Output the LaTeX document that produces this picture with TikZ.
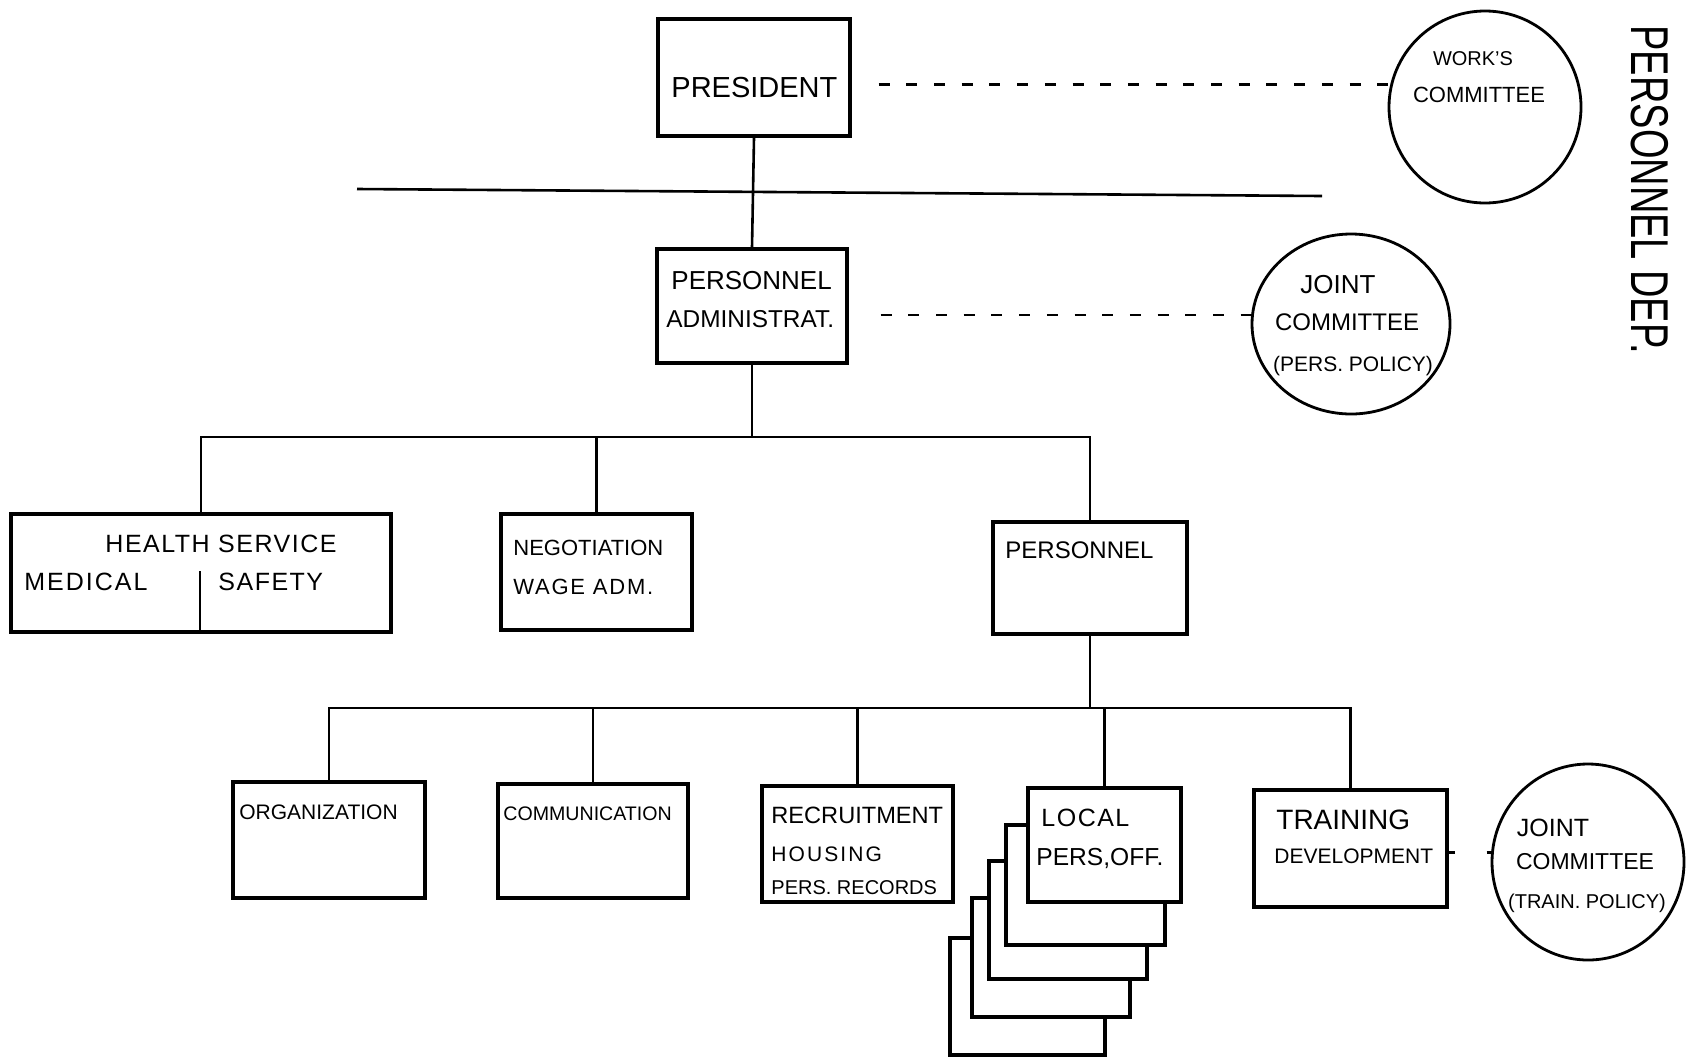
\documentclass[tikz,border=0pt]{standalone}
\usepackage{fontspec}
\setmainfont{Liberation Sans}
\usetikzlibrary{shapes.geometric}
\newcommand\fsz[1]{\fontsize{#1}{#1}\selectfont}
\begin{document}
\begin{tikzpicture}[x=0.5pt,y=-0.5pt,
  box/.style={draw, line width=1.6pt, fill=white, rectangle, inner sep=0pt},
  conn/.style={line width=1.3pt},
  dashline/.style={line width=1.3pt, dash pattern=on 5.5pt off 8.35pt},
  circ/.style={draw, line width=1.4pt, ellipse, inner sep=0pt},
  lbl/.style={anchor=base west, inner sep=0pt},
  clbl/.style={anchor=base, inner sep=0pt}]
\useasboundingbox (0,0) rectangle (1691,1061);

% top level
\node[box, minimum width=96pt, minimum height=58.5pt] (pres) at (754,77.5) {};
\node[box, minimum width=95pt, minimum height=57pt] (padm) at (752,306) {};
\node[circ, minimum width=96pt, minimum height=96pt] (wc) at (1485,107) {};
\node[circ, minimum width=99pt, minimum height=90pt] (jc1) at (1351,324) {};

\coordinate (hl1) at (357,189);
\coordinate (hl2) at (1322,196);
\draw[conn] (hl1) -- (hl2);
\draw[conn] (pres.south) -- (padm.north);
\coordinate (d1s) at ([shift={(27,7)}]pres.east);
\coordinate (d2s) at ([shift={(32,9)}]padm.east);
\draw[dashline] (d1s) -- (d1s -| wc.west);
\draw[dashline] (d2s) -- (d2s -| jc1.west);

% second level
\node[box, minimum width=190pt, minimum height=59pt] (health) at (201,573) {};
\node[box, minimum width=95.5pt, minimum height=58pt] (nego) at (596.5,572) {};
\node[box, minimum width=97pt, minimum height=56pt] (pers) at (1090,578) {};
\draw[conn] ([xshift=-0.5pt]health.south) -- ([shift={(-1,-63)}]health.south);

\coordinate (b1) at (750,437);
\draw[conn] (padm.south) -- (padm.south |- b1);
\draw[conn] (health.north) |- (b1) -| (pers.north);
\draw[conn] (nego.north) -- (nego.north |- b1);

% third level
\node[box, minimum width=96pt, minimum height=58pt] (org) at (329,840) {};
\node[box, minimum width=95pt, minimum height=57pt] (comm) at (593,841) {};
\node[box, minimum width=95.5pt, minimum height=58pt] (recr) at (857.5,844) {};
\node[box, minimum width=77.5pt, minimum height=58.5pt] (s4) at (1027.5,996.5) {};
\node[box, minimum width=79pt, minimum height=59.5pt] (s3) at (1051,957.5) {};
\node[box, minimum width=79pt, minimum height=59pt] (s2) at (1068,920) {};
\node[box, minimum width=79.5pt, minimum height=60pt] (s1) at (1085.5,885) {};
\node[box, minimum width=76.5pt, minimum height=57pt] (local) at (1104.5,845) {};
\node[box, minimum width=96.5pt, minimum height=58.5pt] (train) at (1350.5,848.5) {};
\node[circ, minimum width=96pt, minimum height=98pt] (jc2) at (1588,862) {};

\coordinate (b2) at (1088,708);
\draw[conn] (pers.south) -- (pers.south |- b2);
\draw[conn] (org.north) |- (b2) -| (train.north);
\draw[conn] (comm.north) -- (comm.north |- b2);
\draw[conn] (recr.north) -- (recr.north |- b2);
\draw[conn] (local.north) -- (local.north |- b2);
\coordinate (d3s) at ([shift={(0,4)}]train.east);
\draw[line width=1.3pt, dash pattern=on 3pt off 16pt on 3pt off 30pt] (d3s) -- (d3s -| jc2.west);

% labels
\node[lbl, font=\fsz{14.5}] (tpres) at (671,97) {PRESIDENT};
\node[lbl, font=\fsz{13}] (tpadm1) at (671,289) {PERSONNEL};
\node[lbl, font=\fsz{12.2}] (tpadm2) at (666,327) {ADMINISTRAT.};

\node[clbl, font=\fsz{10}] (twc1) at (1473,65) {WORK'S};
\node[clbl, font=\fsz{11}] (twc2) at (1479,102) {COMMITTEE};

\node[clbl, font=\fsz{13}] (tjc11) at (1338,293) {JOINT};
\node[clbl, font=\fsz{12}] (tjc12) at (1347,330) {COMMITTEE};
\node[clbl, font=\fsz{10.5}] (tjc13) at (1353,371) {(PERS. POLICY)};

\node[clbl, font=\fsz{12.5}\addfontfeatures{LetterSpace=6}] (th1) at (221,552) {HEALTH SERVICE};
\node[lbl, font=\fsz{12.5}\addfontfeatures{LetterSpace=8}] (th2) at (24,590) {MEDICAL};
\node[lbl, font=\fsz{12.5}\addfontfeatures{LetterSpace=6}] (th3) at (218,590) {SAFETY};

\node[lbl, font=\fsz{11}] (tn1) at (513,555) {NEGOTIATION};
\node[lbl, font=\fsz{11}\addfontfeatures{LetterSpace=8}] (tn2) at (513,594) {WAGE ADM.};

\node[lbl, font=\fsz{12}] (tp1) at (1005,558) {PERSONNEL};

\node[lbl, font=\fsz{10.5}] (to1) at (239,819) {ORGANIZATION};
\node[lbl, font=\fsz{9.8}] (tc1) at (503,820) {COMMUNICATION};
\node[lbl, font=\fsz{11.8}] (tr1) at (771,823) {RECRUITMENT};
\node[lbl, font=\fsz{10.5}\addfontfeatures{LetterSpace=10}] (tr2) at (771,861) {HOUSING};
\node[lbl, font=\fsz{10}] (tr3) at (771,894) {PERS. RECORDS};

\node[lbl, font=\fsz{12.5}\addfontfeatures{LetterSpace=6}] (tl1) at (1041,826) {LOCAL};
\node[lbl, font=\fsz{12.3}] (tl2) at (1036,865) {PERS,OFF.};

\node[lbl, font=\fsz{14}] (tt1) at (1276,829) {TRAINING};
\node[lbl, font=\fsz{10.5}] (tt2) at (1274,863) {DEVELOPMENT};

\node[clbl, font=\fsz{12.5}] (tj21) at (1553,836) {JOINT};
\node[clbl, font=\fsz{11.5}] (tj22) at (1585,869) {COMMITTEE};
\node[clbl, font=\fsz{10}] (tj23) at (1587,908) {(TRAIN. POLICY)};

\node[inner sep=0pt, rotate=-90] (title) at (1650,190) {\scalebox{1}[1.4]{\fsz{19}PERSONNEL DEP.}};
\end{tikzpicture}
\end{document}
